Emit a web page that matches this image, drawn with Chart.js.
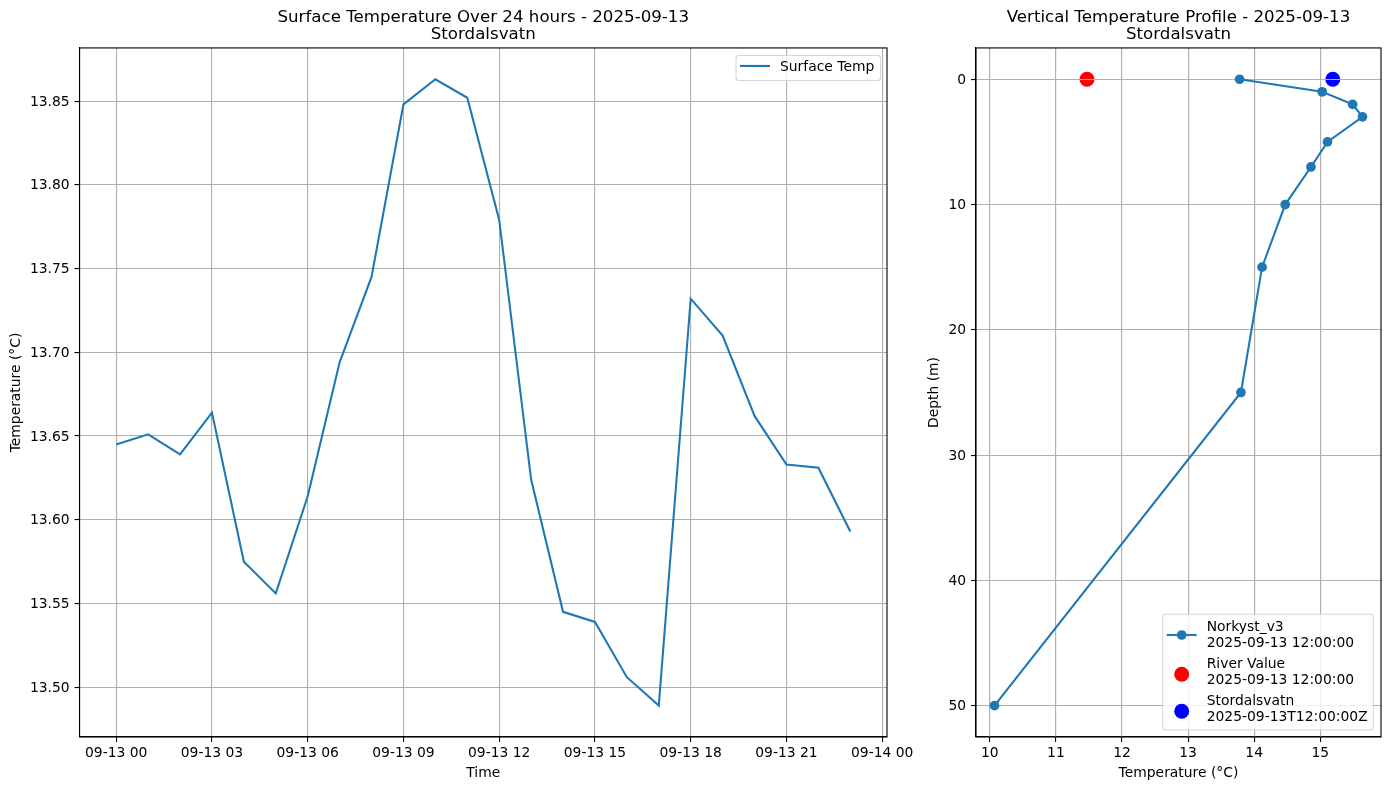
<!DOCTYPE html>
<html>
<head>
<meta charset="utf-8">
<title>Stordalsvatn</title>
<script src="https://cdn.jsdelivr.net/npm/chart.js@4"></script>
<style>
  html, body { margin: 0; padding: 0; background: #fff; overflow: hidden; }
  canvas { position: absolute; top: 0; }
  #surfaceChart { left: 0; }
  #profileChart { left: 926px; }
</style>
</head>
<body>
<canvas id="surfaceChart" width="926" height="790" style="width:926px;height:790px"></canvas>
<canvas id="profileChart" width="463" height="790" style="width:463px;height:790px"></canvas>
<script>
// surface series, hours since 2025-09-13 00:00
const hours = [0, 1, 2, 3, 4, 5, 6, 7, 8, 9, 10, 11, 12, 13, 14, 15, 16, 17, 18, 19, 20, 21, 22, 23];
const surfaceTemps = [13.645, 13.651, 13.639, 13.664, 13.575, 13.556, 13.614, 13.694, 13.745, 13.848, 13.863, 13.852,
  13.779, 13.624, 13.545, 13.539, 13.506, 13.489, 13.732, 13.710, 13.662, 13.633, 13.631, 13.593];
const hourTicks = [0, 3, 6, 9, 12, 15, 18, 21, 24];
const hourTickLabels = ['09-13 00', '09-13 03', '09-13 06', '09-13 09', '09-13 12', '09-13 15', '09-13 18', '09-13 21', '09-14 00'];
const surfaceTempTicks = [13.50, 13.55, 13.60, 13.65, 13.70, 13.75, 13.80, 13.85];

// vertical profile
const depths = [0, 1, 2, 3, 5, 7, 10, 15, 25, 50];
const profileTemps = [13.78, 15.03, 15.49, 15.64, 15.11, 14.86, 14.47, 14.12, 13.80, 10.07];
const riverTemps = [11.47];
const riverDepths = [0];
const lakeTemps = [15.19];
const lakeDepths = [0];
const profileTempTicks = [10, 11, 12, 13, 14, 15];
const depthTicks = [0, 10, 20, 30, 40, 50];

const FONT = 'DejaVu Sans';
const TICK_SIZE = 13.89;
const BLUE = '#1f77b4';
const GRID = '#b0b0b0';
Chart.defaults.font.family = FONT;
Chart.defaults.color = '#000';

const toPoints = (xs, ys) => xs.map((x, i) => ({ x, y: ys[i] }));

// black frame on all four sides, like matplotlib spines
const framePlugin = {
  id: 'frame',
  afterDatasetsDraw(chart) {
    const { ctx, chartArea: a } = chart;
    ctx.save();
    ctx.strokeStyle = '#000';
    ctx.lineWidth = 1.1;
    ctx.strokeRect(a.left, a.top, a.right - a.left, a.bottom - a.top);
    ctx.restore();
  }
};

// y tick labels sit a pixel lower than chart.js puts them
const nudgeLabelsPlugin = {
  id: 'nudgeLabels',
  beforeDraw(chart) {
    chart.scales.y.getLabelItems(chart.chartArea).forEach(item => {
      if (!item.nudged) {
        item.options.translation[1] += 1;
        item.nudged = true;
      }
    });
  }
};

// the big dots are scatter marks, grid lines go over them but under the profile line
const gridOverDotsPlugin = {
  id: 'gridOverDots',
  afterDatasetDraw(chart, args) {
    if (chart.data.datasets[args.index].label !== 'Stordalsvatn') return;
    const { ctx, chartArea: a, scales } = chart;
    const align = Chart.helpers._alignPixel;
    ctx.save();
    ctx.strokeStyle = GRID;
    ctx.lineWidth = 1.1;
    ctx.beginPath();
    scales.y.ticks.forEach(t => {
      const py = align(chart, scales.y.getPixelForValue(t.value), 1.1);
      ctx.moveTo(a.left, py);
      ctx.lineTo(a.right, py);
    });
    scales.x.ticks.forEach(t => {
      const px = align(chart, scales.x.getPixelForValue(t.value), 1.1);
      ctx.moveTo(px, a.top);
      ctx.lineTo(px, a.bottom);
    });
    ctx.stroke();
    ctx.restore();
  }
};

// legend inside the axes, rows come from the options of the chart
const boxLegendPlugin = {
  id: 'boxLegend',
  afterDraw(chart, args, opts) {
    const { ctx, chartArea: a } = chart;
    const left = a.right - opts.right - opts.width;
    const top = opts.top !== undefined ? a.top + opts.top : a.bottom - opts.bottom - opts.height;
    ctx.save();
    ctx.beginPath();
    ctx.roundRect(left, top, opts.width, opts.height, 3);
    ctx.fillStyle = 'rgba(255,255,255,0.8)';
    ctx.fill();
    ctx.strokeStyle = '#d6d6d6';
    ctx.lineWidth = 1.1;
    ctx.stroke();
    ctx.font = TICK_SIZE + 'px "' + FONT + '"';
    ctx.textBaseline = 'middle';
    opts.rows.forEach(row => {
      const ds = chart.data.datasets.find(d => d.label === row.label);
      const hx = left + 4;
      const hy = top + row.y;
      if (ds.showLine) {
        ctx.beginPath();
        ctx.moveTo(hx, hy);
        ctx.lineTo(hx + 30, hy);
        ctx.strokeStyle = ds.borderColor;
        ctx.lineWidth = ds.borderWidth;
        ctx.stroke();
      }
      if (ds.pointRadius > 0) {
        ctx.beginPath();
        ctx.arc(hx + 15, hy, ds.pointRadius, 0, Math.PI * 2);
        ctx.fillStyle = ds.pointBackgroundColor;
        ctx.fill();
      }
      ctx.fillStyle = '#000';
      row.lines.forEach((line, i) => {
        const offset = (i - (row.lines.length - 1) / 2) * 16.2;
        ctx.fillText(line, left + 44, top + row.textY + offset);
      });
    });
    ctx.restore();
  }
};

function axis(min, max, tickValues, label, opts) {
  return Object.assign({
    type: 'linear',
    min,
    max,
    afterBuildTicks: scale => { scale.ticks = tickValues.map(value => ({ value })); },
    ticks: {
      font: { size: TICK_SIZE },
      color: '#000',
      padding: opts.tickPad,
      maxRotation: 0,
      minRotation: 0,
      autoSkip: false,
      callback: opts.format
    },
    grid: { color: GRID, lineWidth: 1.1, tickColor: '#000', tickLength: 5, tickWidth: 1.1 },
    border: { color: '#000', width: 1.1 },
    title: { display: true, text: label, font: { size: TICK_SIZE }, color: '#000', padding: opts.titlePad }
  }, opts.extra);
}

function baseOptions(titleLines, padding, legend, scales) {
  return {
    responsive: false,
    animation: false,
    events: [],
    layout: { padding },
    scales,
    plugins: {
      legend: { display: false },
      tooltip: { enabled: false },
      title: {
        display: true,
        text: titleLines,
        fullSize: false,
        color: '#000',
        font: { size: 16.67, weight: 'normal', lineHeight: 1.03 },
        padding: { top: 9.4, bottom: 4.2 }
      },
      boxLegend: legend
    }
  };
}

const plainNumber = v => String(v);

new Chart(document.getElementById('surfaceChart'), {
  type: 'scatter',
  data: {
    datasets: [{
      label: 'Surface Temp',
      data: toPoints(hours, surfaceTemps),
      showLine: true,
      borderColor: BLUE,
      borderWidth: 2.08,
      pointRadius: 0
    }]
  },
  options: baseOptions(
    ['Surface Temperature Over 24 hours - 2025-09-13', 'Stordalsvatn'],
    { right: 39, bottom: 0 },
    {
      right: 6.5, top: 7.5, width: 144.5, height: 25,
      rows: [{ label: 'Surface Temp', y: 10.5, textY: 11.5, lines: ['Surface Temp'] }]
    },
    {
      x: axis(-1.15, 24.15, hourTicks, 'Time', {
        tickPad: 3,
        titlePad: { top: 0, bottom: 8 },
        format: v => hourTickLabels[hourTicks.indexOf(v)],
        extra: { afterFit: s => { s.height = 53; } }
      }),
      y: axis(13.47027, 13.88173, surfaceTempTicks, 'Temperature (°C)', {
        tickPad: 4.9,
        titlePad: { top: 8, bottom: 0 },
        format: v => v.toFixed(2),
        extra: { afterFit: s => { s.width = 79.5; } }
      })
    }
  ),
  plugins: [framePlugin, nudgeLabelsPlugin, boxLegendPlugin]
});

new Chart(document.getElementById('profileChart'), {
  type: 'scatter',
  data: {
    // drawn last to first by order: dots, then grid over them, then the line
    datasets: [
      {
        label: 'Norkyst_v3',
        data: toPoints(profileTemps, depths),
        showLine: true,
        borderColor: BLUE,
        borderWidth: 2.08,
        pointRadius: 4.86,
        pointBackgroundColor: BLUE,
        pointBorderWidth: 0,
        order: 1
      },
      {
        label: 'River Value',
        data: toPoints(riverTemps, riverDepths),
        pointRadius: 7.5,
        pointBackgroundColor: '#ff0000',
        pointBorderWidth: 0,
        order: 3
      },
      {
        label: 'Stordalsvatn',
        data: toPoints(lakeTemps, lakeDepths),
        pointRadius: 7.5,
        pointBackgroundColor: '#0000ff',
        pointBorderWidth: 0,
        order: 2
      }
    ]
  },
  options: baseOptions(
    ['Vertical Temperature Profile - 2025-09-13', 'Stordalsvatn'],
    { right: 8, bottom: 0 },
    {
      right: 7.7, bottom: 7, width: 210.6, height: 115.7,
      rows: [
        { label: 'Norkyst_v3', y: 20.7, textY: 21.2, lines: ['Norkyst_v3', '2025-09-13 12:00:00'] },
        { label: 'River Value', y: 60, textY: 58.2, lines: ['River Value', '2025-09-13 12:00:00'] },
        { label: 'Stordalsvatn', y: 97, textY: 95.2, lines: ['Stordalsvatn', '2025-09-13T12:00:00Z'] }
      ]
    },
    {
      x: axis(9.79, 15.92, profileTempTicks, 'Temperature (°C)', {
        tickPad: 3,
        titlePad: { top: 0, bottom: 8 },
        format: plainNumber,
        extra: { afterFit: s => { s.height = 53; } }
      }),
      y: axis(-2.5, 52.5, depthTicks, 'Depth (m)', {
        tickPad: 4.9,
        titlePad: { top: 0, bottom: 0 },
        format: plainNumber,
        extra: { reverse: true, afterFit: s => { s.width = 50; } }
      })
    }
  ),
  plugins: [framePlugin, nudgeLabelsPlugin, gridOverDotsPlugin, boxLegendPlugin]
});
</script>
</body>
</html>
